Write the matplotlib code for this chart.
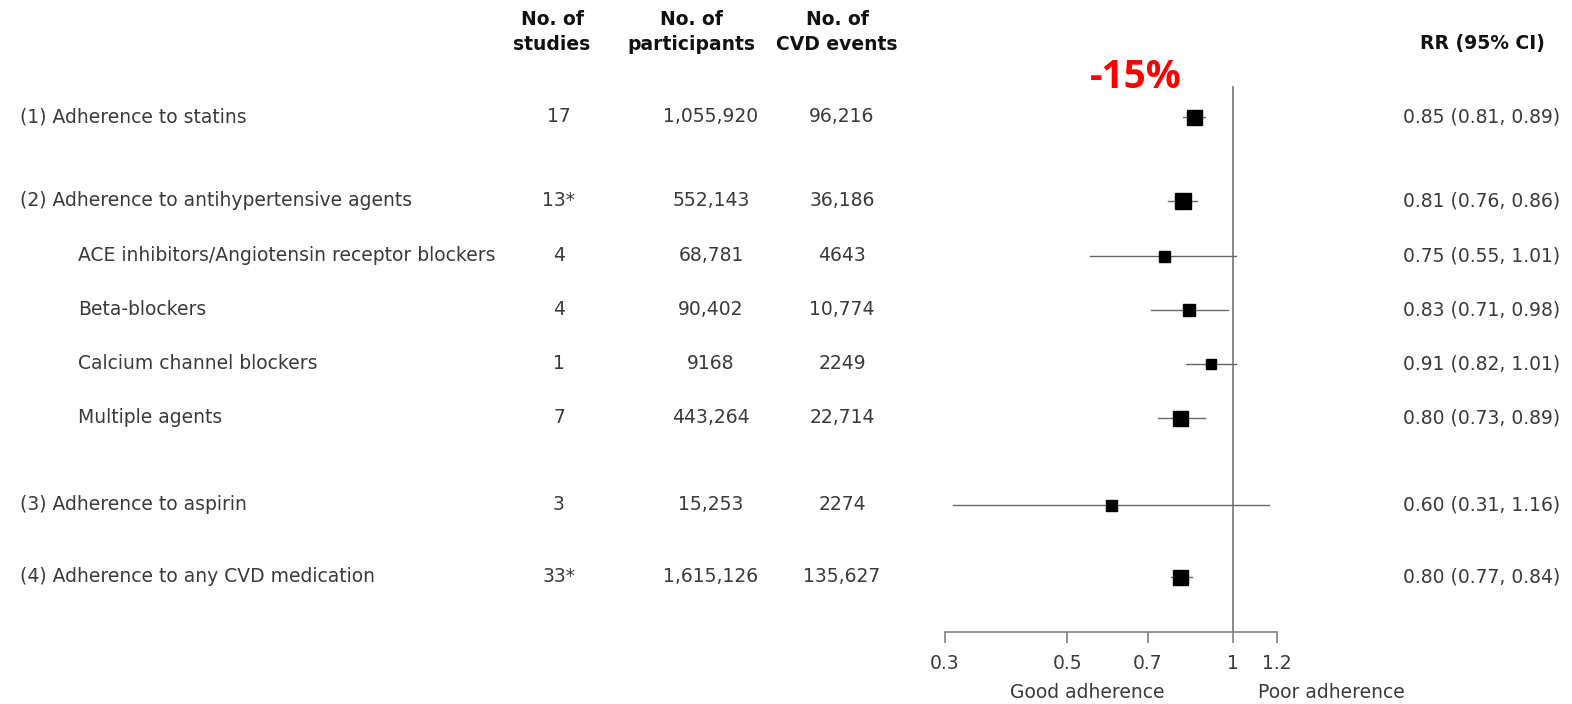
import matplotlib.pyplot as plt
from matplotlib import transforms

# Dados do forest plot
labels = ['(1) Adherence to statins',
          '(2) Adherence to antihypertensive agents',
          'ACE inhibitors/Angiotensin receptor blockers',
          'Beta-blockers',
          'Calcium channel blockers',
          'Multiple agents',
          '(3) Adherence to aspirin',
          '(4) Adherence to any CVD medication']
n_studies = ['17', '13*', '4', '4', '1', '7', '3', '33*']
n_participants = ['1,055,920', '552,143', '68,781', '90,402', '9168', '443,264', '15,253', '1,615,126']
n_events = ['96,216', '36,186', '4643', '10,774', '2249', '22,714', '2274', '135,627']
rr = [0.85, 0.81, 0.75, 0.83, 0.91, 0.80, 0.60, 0.80]
ci_low = [0.81, 0.76, 0.55, 0.71, 0.82, 0.73, 0.31, 0.77]
ci_high = [0.89, 0.86, 1.01, 0.98, 1.01, 0.89, 1.16, 0.84]
xticks = [0.3, 0.5, 0.7, 1, 1.2]
xtick_labels = ['0.3', '0.5', '0.7', '1', '1.2']

# Layout (pixels a partir do topo)
W, H = 1572, 704
row_y = [117, 201, 256, 310, 364, 418, 505, 577]
indent = [False, False, True, True, True, True, False, False]
marker_px = [15, 16, 11, 12, 10, 15, 11, 15]
txt_color = '#3a3a3a'
fs = 13.5
plt.rcParams['font.family'] = ['DejaVu Sans']

fig = plt.figure(figsize=(W / 100, H / 100), dpi=100)
ax_left, ax_right, ax_bottom, ax_top = 945, 1277, 632, 86
ax = fig.add_axes([ax_left / W, 1 - ax_bottom / H, (ax_right - ax_left) / W, (ax_bottom - ax_top) / H])
ax.set_xscale('log')
ax.set_xlim(0.3, 1.2)
ax.set_ylim(ax_bottom, ax_top)

# Linha de referência em RR = 1
ax.axvline(1, color='#808080', lw=1.3, zorder=1)

for y, r, lo, hi, ms in zip(row_y, rr, ci_low, ci_high, marker_px):
    ax.plot([lo, hi], [y, y], color='#666666', lw=1.0, zorder=2)
    ax.plot(r, y, marker='s', color='black', markersize=ms * 0.72, zorder=3)

for s in ['top', 'left', 'right']:
    ax.spines[s].set_visible(False)
ax.spines['bottom'].set_color('#808080')
ax.spines['bottom'].set_linewidth(1.2)
ax.set_yticks([])
ax.set_xticks(xticks)
ax.set_xticklabels(xtick_labels)
ax.minorticks_off()
ax.tick_params(axis='x', direction='out', length=8, width=1.2, color='#808080',
               labelsize=fs, labelcolor=txt_color, pad=8)

# Colunas de texto: x em fração da figura, y em dados do eixo
tr = transforms.blended_transform_factory(fig.transFigure, ax.transData)
for y, lab, ind, ns, npart, nev, r, lo, hi in zip(row_y, labels, indent, n_studies,
                                                  n_participants, n_events, rr, ci_low, ci_high):
    x0 = 78 if ind else 20
    ax.text(x0 / W, y, lab, transform=tr, ha='left', va='center', fontsize=fs, color=txt_color)
    ax.text(559 / W, y, ns, transform=tr, ha='center', va='center', fontsize=fs, color=txt_color)
    ax.text(711 / W, y, npart, transform=tr, ha='center', va='center', fontsize=fs, color=txt_color)
    ax.text(842 / W, y, nev, transform=tr, ha='center', va='center', fontsize=fs, color=txt_color)
    ax.text(1560 / W, y, f'{r:.2f} ({lo:.2f}, {hi:.2f})', transform=tr, ha='right',
            va='center', fontsize=fs, color=txt_color)

# Cabeçalhos
headers = [(552, 'No. of\nstudies'), (691, 'No. of\nparticipants'), (837, 'No. of\nCVD events')]
for x, h in headers:
    fig.text(x / W, 1 - 32 / H, h, ha='center', va='center', fontsize=fs,
             fontweight='bold', color='#111111', linespacing=1.35)
fig.text(1482 / W, 1 - 44 / H, 'RR (95% CI)', ha='center', va='center', fontsize=fs,
         fontweight='bold', color='#111111')

fig.text(1136 / W, 1 - 77 / H, '-15%', ha='center', va='center', fontsize=28,
         fontweight='bold', color='#ff0000', family=['Open Sans', 'DejaVu Sans'])

fig.text(1087 / W, 1 - 692 / H, 'Good adherence', ha='center', va='center', fontsize=fs, color=txt_color)
fig.text(1258 / W, 1 - 692 / H, 'Poor adherence', ha='left', va='center', fontsize=fs, color=txt_color)

fig.savefig('out.png', dpi=100, facecolor='white')
